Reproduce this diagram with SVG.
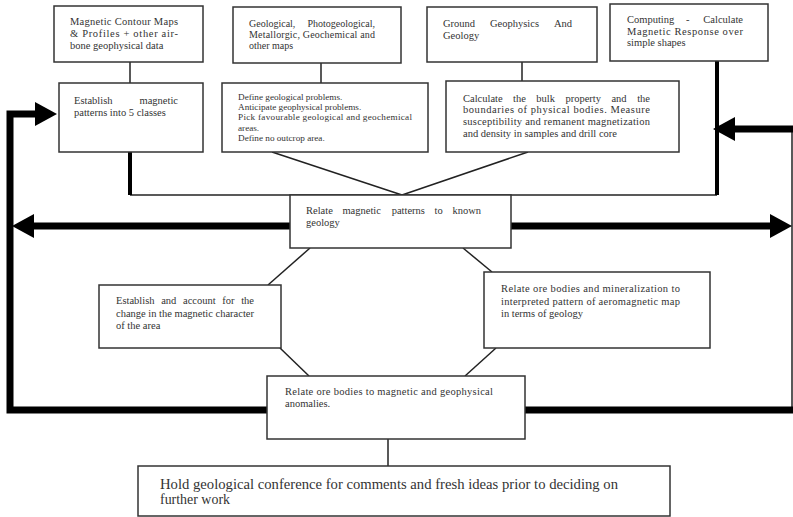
<svg xmlns="http://www.w3.org/2000/svg" width="793" height="517" viewBox="0 0 793 517">
<style>
.box{fill:#fff;stroke:#333;stroke-width:1.5}
.t{font-family:"Liberation Serif","Times New Roman",serif;font-size:10.5px;fill:#333}
.s{font-size:9.2px}
.m{font-size:10px}
.b{font-size:15px}
.e{text-anchor:end}
.thin{fill:none;stroke:#222;stroke-width:1.5}
.mid{fill:none;stroke:#000;stroke-width:4}
.thick{fill:none;stroke:#000;stroke-width:7;stroke-linejoin:miter}
</style>
<defs>
<marker id="ah" markerUnits="userSpaceOnUse" markerWidth="24" markerHeight="26" refX="0" refY="12" orient="auto"><path d="M0,0 L22,12 L0,24 z" fill="#000"/></marker>
</defs>
<rect width="793" height="517" fill="#fff"/>
<g id="connectors">
<path class="thin" d="M130,62 V83"/>
<path class="thin" d="M321,63 V83"/>
<path class="thin" d="M522,62 V81"/>
<path class="thin" d="M272,152 L402,195"/>
<path class="thin" d="M528,152 L402,195"/>
<path class="thin" d="M130,195 H717"/>
<path class="thin" d="M310,248 L268,285"/>
<path class="thin" d="M463,248 L492,272"/>
<path class="thin" d="M280,348 L309,376"/>
<path class="thin" d="M496,348 L465,376"/>
<path class="thin" d="M388,439 V466"/>
<path class="thin" d="M792,129 V410"/>
<path class="mid" d="M130,152 V195"/>
<path class="mid" d="M717,61 V195"/>
<path class="thick" d="M268,410 H10 V114 H35" marker-end="url(#ah)"/>
<path class="thick" d="M290,226 H34" marker-end="url(#ah)"/>
<path class="thick" d="M511,226 H770" marker-end="url(#ah)"/>
<path class="thick" d="M793,129 H735" marker-end="url(#ah)"/>
<path class="thick" d="M525,410 H793"/>
</g>
<g id="n1">
<rect class="box" x="54" y="6" width="149" height="56"/>
<text class="t" x="70" y="24.5" textLength="108" lengthAdjust="spacing">Magnetic Contour Maps</text>
<text class="t" x="70" y="36.5" textLength="108" lengthAdjust="spacing">&amp; Profiles + other air-</text>
<text class="t" x="70" y="48.5">bone geophysical data</text>
</g>
<g id="n2">
<rect class="box" x="59" y="83" width="144" height="69"/>
<text class="t" x="74" y="104">Establish</text>
<text class="t e" x="178" y="104">magnetic</text>
<text class="t" x="74" y="116">patterns into 5 classes</text>
</g>
<g id="n3">
<rect class="box" x="233" y="7" width="168" height="56"/>
<text class="t m" x="249" y="27">Geological,</text>
<text class="t m e" x="375" y="27">Photogeological,</text>
<text class="t m" x="249" y="38" textLength="126" lengthAdjust="spacing">Metallorgic, Geochemical and</text>
<text class="t m" x="249" y="49">other maps</text>
</g>
<g id="n4">
<rect class="box" x="222" y="83" width="206" height="69"/>
<text class="t s" x="238" y="100">Define geological problems.</text>
<text class="t s" x="238" y="110.2">Anticipate geophysical problems.</text>
<text class="t s" x="238" y="120.4" textLength="174" lengthAdjust="spacing">Pick favourable geological and geochemical</text>
<text class="t s" x="238" y="130.6">areas.</text>
<text class="t s" x="238" y="140.8">Define no outcrop area.</text>
</g>
<g id="n5">
<rect class="box" x="427" y="7" width="170" height="55"/>
<text class="t" x="443" y="27">Ground</text>
<text class="t" x="490" y="27">Geophysics</text>
<text class="t e" x="572" y="27">And</text>
<text class="t" x="443" y="39">Geology</text>
</g>
<g id="n6">
<rect class="box" x="446" y="81" width="233" height="71"/>
<text class="t" x="463" y="101.5">Calculate</text>
<text class="t" x="513" y="101.5">the</text>
<text class="t" x="536.3" y="101.5">bulk</text>
<text class="t" x="565.4" y="101.5">property</text>
<text class="t" x="611.4" y="101.5">and</text>
<text class="t e" x="650" y="101.5">the</text>
<text class="t" x="463" y="113" textLength="187" lengthAdjust="spacing">boundaries of physical bodies. Measure</text>
<text class="t" x="463" y="125" textLength="187" lengthAdjust="spacing">susceptibility and remanent magnetization</text>
<text class="t" x="463" y="136.5">and density in samples and drill core</text>
</g>
<g id="n7">
<rect class="box" x="610" y="4" width="158" height="57"/>
<text class="t" x="627" y="23">Computing</text>
<text class="t" x="686" y="23">-</text>
<text class="t e" x="743" y="23">Calculate</text>
<text class="t" x="627" y="35" textLength="116" lengthAdjust="spacing">Magnetic Response over</text>
<text class="t" x="627" y="46">simple shapes</text>
</g>
<g id="n8">
<rect class="box" x="290" y="195" width="221" height="53"/>
<text class="t" x="306" y="214">Relate</text>
<text class="t" x="342.4" y="214">magnetic</text>
<text class="t" x="391.7" y="214">patterns</text>
<text class="t" x="434.5" y="214">to</text>
<text class="t e" x="481" y="214">known</text>
<text class="t" x="306" y="226">geology</text>
</g>
<g id="n9">
<rect class="box" x="99" y="285" width="182" height="63"/>
<text class="t" x="116" y="304">Establish</text>
<text class="t" x="161.2" y="304">and</text>
<text class="t" x="183" y="304">account</text>
<text class="t" x="222.3" y="304">for</text>
<text class="t e" x="254" y="304">the</text>
<text class="t" x="116" y="317" textLength="138" lengthAdjust="spacing">change in the magnetic character</text>
<text class="t" x="116" y="329">of the area</text>
</g>
<g id="n10">
<rect class="box" x="484" y="272" width="226" height="76"/>
<text class="t" x="501" y="292" textLength="179" lengthAdjust="spacing">Relate ore bodies and mineralization to</text>
<text class="t" x="501" y="304.5" textLength="179" lengthAdjust="spacing">interpreted pattern of aeromagnetic map</text>
<text class="t" x="501" y="317">in terms of geology</text>
</g>
<g id="n11">
<rect class="box" x="267" y="376" width="258" height="63"/>
<text class="t" x="285" y="395" textLength="208" lengthAdjust="spacing">Relate ore bodies to magnetic and geophysical</text>
<text class="t" x="285" y="407">anomalies.</text>
</g>
<g id="n12">
<rect class="box" x="138" y="466" width="532" height="50"/>
<text class="t b" x="160" y="489" textLength="458" lengthAdjust="spacingAndGlyphs">Hold geological conference for comments and fresh ideas prior to deciding on</text>
<text class="t b" x="160" y="504" textLength="70" lengthAdjust="spacingAndGlyphs">further work</text>
</g>
</svg>
